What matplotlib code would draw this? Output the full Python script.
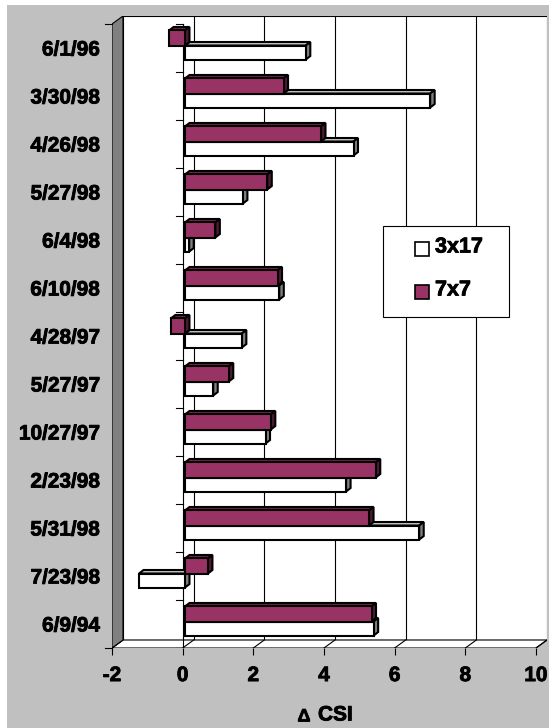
import matplotlib
matplotlib.use('Agg')
import matplotlib.pyplot as plt
from matplotlib.patches import Rectangle, Polygon
import matplotlib.patheffects as pe
import numpy as np

# sample dates, listed top to bottom
categories = ['6/1/96', '3/30/98', '4/26/98', '5/27/98', '6/4/98', '6/10/98',
              '4/28/97', '5/27/97', '10/27/97', '2/23/98', '5/31/98', '7/23/98',
              '6/9/94']
csi_3x17 = [3.42, 6.94, 4.77, 1.64, 0.12, 2.67, 1.61, 0.80, 2.28, 4.56, 6.63, -1.30, 5.34]
csi_7x7 = [-0.45, 2.79, 3.85, 2.33, 0.86, 2.62, -0.40, 1.24, 2.43, 5.40, 5.21, 0.65, 5.28]
xticks = [-2, 0, 2, 4, 6, 8, 10]

plt.rcParams['font.family'] = ['Liberation Sans', 'DejaVu Sans']
plt.rcParams['font.weight'] = 'bold'

W, H = 549, 728
fig = plt.figure(figsize=(W / 100, H / 100), dpi=100)
fig.patch.set_facecolor('white')
heavy = [pe.withStroke(linewidth=0.6, foreground='black')]


def fx(x):
    return x / W


def fy(y):
    return 1 - y / H


# grey chart area
fig.add_artist(Rectangle((fx(7), 0), fx(549) - fx(7), fy(5), transform=fig.transFigure,
                         facecolor='#c0c0c0', edgecolor='none', zorder=-10))

ax = fig.add_axes([fx(112), fy(648), fx(547) - fx(112), fy(16) - fy(648)])
ax.patch.set_visible(False)
for s in ax.spines.values():
    s.set_visible(False)

n = len(categories)
xmin, xmax = xticks[0], xticks[-1]
DX, DY = 11 / 35.33, 8 / 48.0      # depth of the 3d box
SX, SY = 0.065, 0.035             # bars sit a little into the box
BX, BY = 4.5 / 35.33, 3.5 / 48.0  # bar thickness
ax.set_xlim(xmin, xmax + DX)
ax.set_ylim(0, n + DY)

lw = 0.8
# back wall, gridlines, floor, side wall
ax.add_patch(Rectangle((xmin + DX, DY), xmax - xmin, n, facecolor='white',
                       edgecolor='black', lw=lw, zorder=0))
for t in xticks[1:-1]:
    ax.plot([t + DX, t + DX], [DY, n + DY], color='black', lw=lw, zorder=1)
ax.add_patch(Polygon([(xmin, 0), (xmax, 0), (xmax + DX, DY), (xmin + DX, DY)],
                     closed=True, facecolor='white', edgecolor='black', lw=lw, zorder=1))
for t in xticks:
    ax.plot([t, t + DX], [0, DY], color='black', lw=lw, zorder=1)
ax.add_patch(Polygon([(xmin, 0), (xmin + DX, DY), (xmin + DX, n + DY), (xmin, n)],
                     closed=True, facecolor='#808080', edgecolor='black', lw=lw, zorder=1))
for yy in [0, n]:
    ax.plot([xmin - 0.2, xmin], [yy, yy], color='black', lw=lw, zorder=1, clip_on=False)

# category axis crossing at zero
ax.plot([0, 0], [0, n], color='black', lw=lw, zorder=2)
for k in range(n + 1):
    ax.plot([-0.2, 0], [k, k], color='black', lw=lw, zorder=2)


def bar3d(y0, h, v, fc, topc, sidec):
    x0 = min(0, v) + SX
    x1 = max(0, v) + SX
    y0 = y0 + SY
    kw = dict(edgecolor='black', lw=1.5, joinstyle='miter', zorder=3)
    ax.add_patch(Polygon([(x0, y0 + h), (x1, y0 + h), (x1 + BX, y0 + h + BY), (x0 + BX, y0 + h + BY)],
                         closed=True, facecolor=topc, **kw))
    ax.add_patch(Polygon([(x1, y0), (x1 + BX, y0 + BY), (x1 + BX, y0 + h + BY), (x1, y0 + h)],
                         closed=True, facecolor=sidec, **kw))
    ax.add_patch(Rectangle((x0, y0), x1 - x0, h, facecolor=fc, **kw))


for j in range(n):
    i = n - 1 - j
    bar3d(i + 0.225, 0.292, csi_3x17[j], 'white', '#c8c8c8', '#808080')
    bar3d(i + 0.517, 0.313, csi_7x7[j], '#993366', '#6e2449', '#4d1933')

ax.set_xticks(xticks)
ax.set_xticklabels([str(t) for t in xticks])
ax.tick_params(axis='x', length=5, width=lw, pad=8, labelsize=15)
ax.set_yticks(np.arange(n) + 0.5)
ax.set_yticklabels(categories[::-1])
ax.tick_params(axis='y', length=0, pad=8.6, labelsize=15)
for lab in ax.get_xticklabels() + ax.get_yticklabels():
    lab.set_path_effects(heavy)

fig.text(fx(304), fy(717), '\u0394', ha='center', va='center', fontsize=13, path_effects=heavy)
fig.text(fx(318), fy(715), 'CSI', ha='left', va='center', fontsize=15, path_effects=heavy)

# legend box
fig.add_artist(Rectangle((fx(383), fy(317)), fx(509) - fx(383), fy(226) - fy(317),
                         transform=fig.transFigure, facecolor='white', edgecolor='black',
                         lw=lw, zorder=5))
for yc, col, name in [(249, 'white', '3x17'), (292, '#993366', '7x7')]:
    fig.add_artist(Rectangle((fx(415), fy(yc + 7)), fx(429) - fx(415), fy(yc - 7) - fy(yc + 7),
                             transform=fig.transFigure, facecolor=col, edgecolor='black',
                             lw=1.2, zorder=6))
    fig.text(fx(435), fy(yc - 2), name, ha='left', va='center', fontsize=15.5, zorder=6,
             path_effects=heavy)

fig.savefig('out.png', dpi=100, facecolor=fig.get_facecolor())
